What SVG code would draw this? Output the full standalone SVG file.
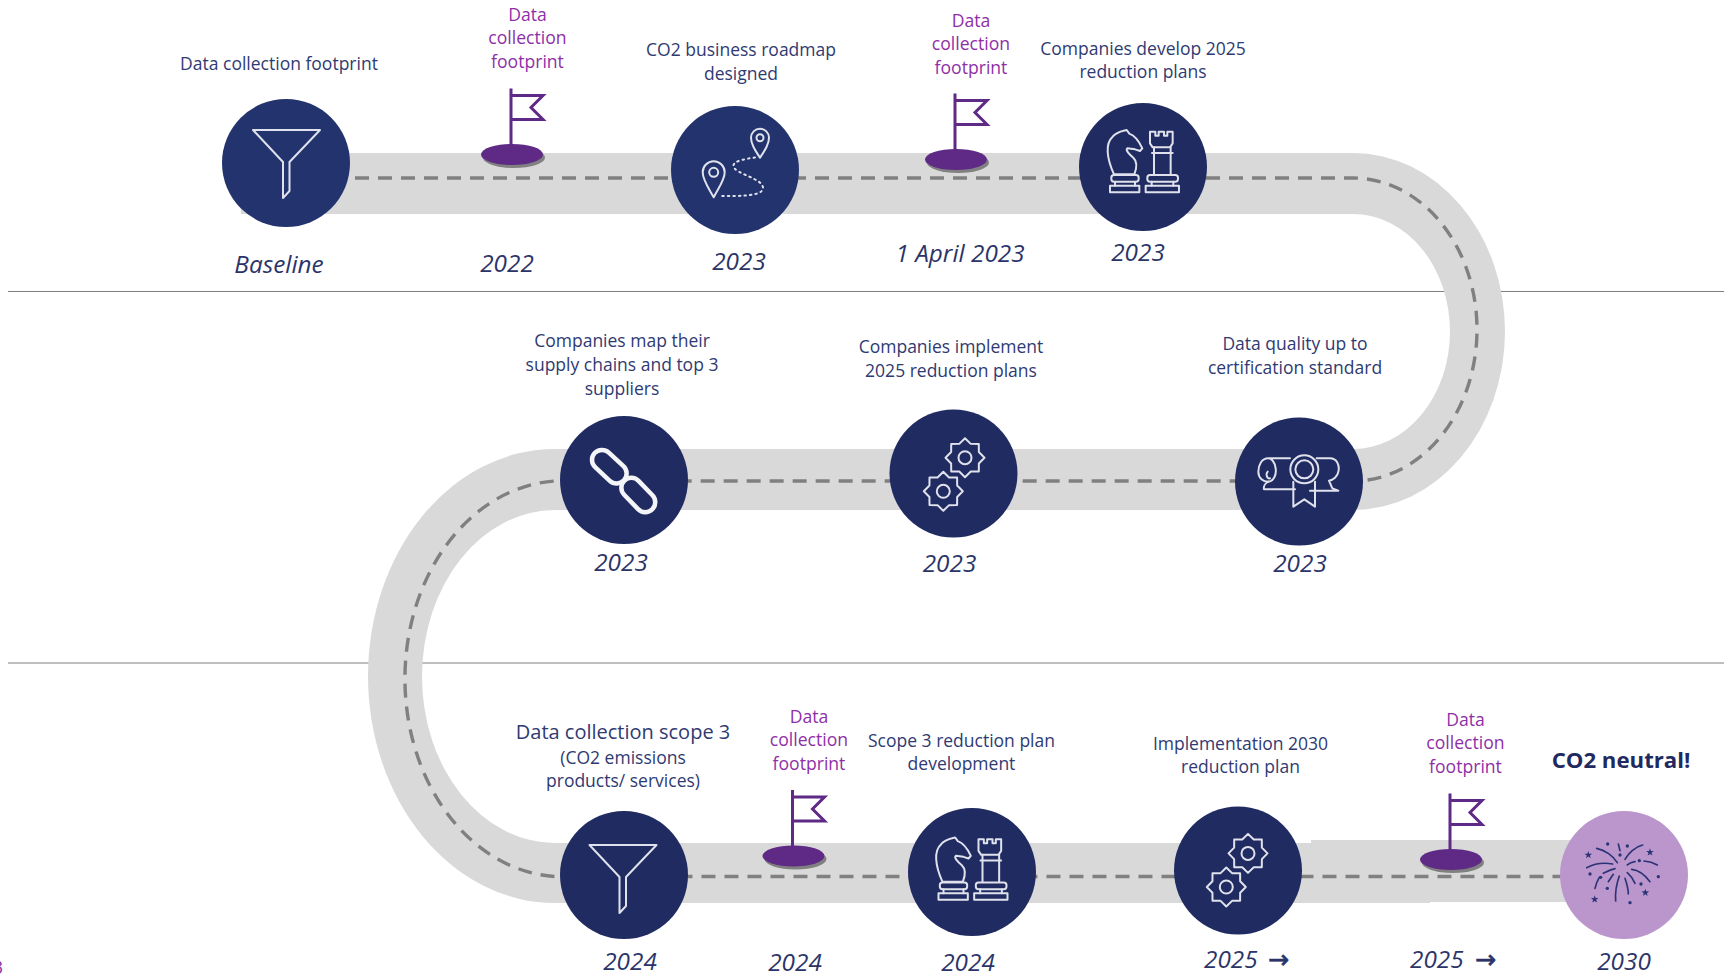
<svg xmlns="http://www.w3.org/2000/svg" xmlns:xlink="http://www.w3.org/1999/xlink" width="1724" height="975" viewBox="0 0 1724 975">
<style>
text{font-family:"Open Sans","Noto Sans","Liberation Sans",sans-serif;text-anchor:middle}
.t{font-size:17.5px;fill:#2f3a72}
.m{font-size:17.6px;fill:#8e2fa8}
.d{font-size:24.3px;font-style:italic;fill:#2b3468}
.big{font-size:20px;fill:#2f3a72}
.b{font-size:22.2px;font-weight:700;fill:#1f2a60}
.a{font-family:"DejaVu Sans",sans-serif;font-style:normal;font-size:25px;stroke:#2b3468;stroke-width:.7}
.road{fill:#d9d9d9}
.dash{fill:none;stroke:#808080;stroke-width:3.4;stroke-dasharray:14 9}
.rule{stroke:#7f7f7f;stroke-width:1.2}
.c{fill:#202b61}
.c2{fill:#23336d}
.ic{fill:none;stroke:#dfe2ec;stroke-width:2;stroke-linejoin:round;stroke-linecap:round}
.flag{fill:none;stroke:#5f2a85;stroke-width:3}
.fb{fill:#5f2a85}
.fs{fill:#808080}
.fw{fill:none;stroke:#2b3477;stroke-width:5;stroke-linecap:round}
.fd{fill:#2b3477}
</style>
<defs>
<g id="funnel"><path class="ic" d="M253,130H320L289.5,162V191L283,198V162Z"/></g>
<g id="pennant">
<ellipse class="fs" cx="2" cy="3" rx="31" ry="10.5"/>
<ellipse class="fb" cx="0" cy="0" rx="31" ry="10.5"/>
<path class="flag" d="M-1,-66V-8M-1,-59H31L19,-47L31,-35H-1"/>
</g>
<g id="chess" transform="scale(.3333)">
<g class="ic" style="stroke-width:6">
<path d="M72,178C50,130 45,85 68,65C80,50 100,48 110,45L118,56C135,62 150,85 157,100L150,108L135,103L112,100C105,105 118,118 130,128C145,142 138,165 133,178Z"/>
<rect x="64" y="180" width="82" height="20" rx="8"/><path d="M75,200V212M135,200V212"/><rect x="60" y="212" width="88" height="20"/>
<path d="M180,50h16v12h10v-12h16v12h10v-12h16v35l-8,12H188l-8,-12Z"/>
<path d="M192,97V178M242,97V178M186,114H248"/>
<rect x="172" y="180" width="92" height="20" rx="8"/><path d="M185,200V212M250,200V212"/><rect x="167" y="212" width="100" height="20"/>
</g></g>
<g id="gear">
<path class="ic" d="M0,-19.5L5.74,-13.86L13.8,-13.8L13.86,-5.74L19.5,0L13.86,5.74L13.8,13.8L5.74,13.86L0,19.5L-5.74,13.86L-13.8,13.8L-13.86,5.74L-19.5,0L-13.86,-5.74L-13.8,-13.8L-5.74,-13.86Z"/>
<circle class="ic" r="6.5"/>
</g>
<g id="gears"><use xlink:href="#gear" href="#gear" x="965" y="457.7"/><use xlink:href="#gear" href="#gear" x="943.3" y="491.3"/></g>
<polygon id="star" class="fd" points="0,-12 2.8,-3.9 11.4,-3.7 4.6,1.5 7.1,9.7 0,4.8 -7.1,9.7 -4.6,1.5 -11.4,-3.7 -2.8,-3.9"/>
</defs>

<g id="rules">
<line class="rule" x1="8" y1="291.5" x2="1724" y2="291.5"/>
<line class="rule" x1="8" y1="663" x2="1724" y2="663"/>
</g>

<g id="connectors">
<path class="road" d="M241,153H1353A152,178.5 0 0 1 1353,510H555A133,166.5 0 0 0 555,843H1430V903H555A187,227 0 0 1 555,449H1353A97,117.5 0 0 0 1353,214H241Z"/>
<rect class="road" x="1311" y="840" width="260" height="62"/>
<path class="dash" d="M286,178H1353A124,151.5 0 0 1 1353,481H555A158,198 0 0 0 555,876.5H1624"/>
</g>

<g id="flag-1"><use xlink:href="#pennant" href="#pennant" x="512" y="154.5"/>
<text class="m" x="527.5" y="21">Data</text><text class="m" x="527.5" y="44">collection</text><text class="m" x="527.5" y="68">footprint</text></g>
<g id="flag-2"><use xlink:href="#pennant" href="#pennant" x="956" y="159.5"/>
<text class="m" x="971" y="27">Data</text><text class="m" x="971" y="50">collection</text><text class="m" x="971" y="74">footprint</text></g>
<g id="flag-3"><use xlink:href="#pennant" href="#pennant" x="793.5" y="856"/>
<text class="m" x="809" y="722.5">Data</text><text class="m" x="809" y="745.5">collection</text><text class="m" x="809" y="769.5">footprint</text></g>
<g id="flag-4"><use xlink:href="#pennant" href="#pennant" x="1451" y="859.5"/>
<text class="m" x="1465.5" y="725.5">Data</text><text class="m" x="1465.5" y="748.5">collection</text><text class="m" x="1465.5" y="772.5">footprint</text></g>

<g id="node-baseline">
<circle class="c2" cx="286" cy="163" r="64"/>
<use xlink:href="#funnel" href="#funnel"/>
<text class="t" x="279" y="70">Data collection footprint</text>
<text class="d" x="279" y="273">Baseline</text>
</g>
<g id="node-2022"><text class="d" x="507" y="271.5">2022</text></g>
<g id="node-roadmap">
<circle class="c2" cx="735" cy="170" r="64"/>
<g class="ic">
<path d="M760,157.7C755,150 751,144 751,137.7A9,9 0 0 1 769,137.7C769,144 765,150 760,157.7Z"/><circle cx="760" cy="137.7" r="3.5"/>
<path d="M713.7,197.3C708,187 702.7,180 702.7,172.3A11,11 0 0 1 724.7,172.3C724.7,180 719,187 713.7,197.3Z"/><circle cx="713.7" cy="172.3" r="4.5"/>
<path stroke-dasharray="1.5 4" d="M755,157.5C745,159 733,161 733.5,166C734,174 763,178 763,188C763,197 735,196 720,196"/>
</g>
<text class="t" x="741" y="56">CO2 business roadmap</text><text class="t" x="741" y="79.5">designed</text>
<text class="d" x="739" y="270">2023</text>
</g>
<g id="node-april"><text class="d" x="960" y="262">1 April 2023</text></g>
<g id="node-develop">
<circle class="c" cx="1143" cy="167" r="64"/>
<use xlink:href="#chess" href="#chess" transform="translate(1090,115)"/>
<text class="t" x="1143" y="55">Companies develop 2025</text><text class="t" x="1143" y="78">reduction plans</text>
<text class="d" x="1138" y="260.5">2023</text>
</g>
<g id="node-map">
<circle class="c" cx="624" cy="480" r="64"/>
<g fill="none" stroke="#f4f5f8" stroke-width="4.5">
<rect x="589.3" y="456.7" width="40" height="20" rx="10" transform="rotate(43 609.3 466.7)"/>
<rect x="618.3" y="485" width="40" height="20" rx="10" transform="rotate(46 638.3 495)"/>
</g>
<text class="t" x="622" y="347">Companies map their</text><text class="t" x="622" y="370.5">supply chains and top 3</text><text class="t" x="622" y="394.5">suppliers</text>
<text class="d" x="621" y="570.5">2023</text>
</g>
<g id="node-implement">
<circle class="c" cx="953.5" cy="473.5" r="64"/>
<use xlink:href="#gears" href="#gears"/>
<text class="t" x="951" y="353">Companies implement</text><text class="t" x="951" y="376.5">2025 reduction plans</text>
<text class="d" x="949.5" y="572">2023</text>
</g>
<g id="node-certify">
<circle class="c" cx="1299" cy="481.5" r="64"/>
<g class="ic" transform="translate(1245,430) scale(.3333)" style="stroke-width:6">
<path d="M70,85C50,85 40,105 40,125C40,145 55,155 70,155C85,155 95,135 92,115C90,98 80,85 70,85ZM70,85H135M68,125C62,130 65,148 75,145"/>
<path d="M70,155C60,160 55,170 57,178H150M215,85H255C275,85 285,105 280,125C278,140 265,150 252,152L262,175L280,182H195"/>
<circle cx="178" cy="118" r="42"/><circle cx="178" cy="118" r="27"/>
<path d="M145,155V230L178,208L210,230V155"/>
</g>
<text class="t" x="1295" y="350">Data quality up to</text><text class="t" x="1295" y="373.5">certification standard</text>
<text class="d" x="1300" y="572">2023</text>
</g>
<g id="node-scope3">
<circle class="c" cx="624" cy="875" r="64"/>
<use xlink:href="#funnel" href="#funnel" transform="translate(336.5,715)"/>
<text class="big" x="623" y="739">Data collection scope 3</text>
<text class="t" x="623" y="764">(CO2 emissions</text><text class="t" x="623" y="787">products/ services)</text>
<text class="d" x="630" y="970">2024</text>
</g>
<g id="node-2024"><text class="d" x="795" y="971">2024</text></g>
<g id="node-scope3plan">
<circle class="c" cx="972" cy="872" r="64"/>
<use xlink:href="#chess" href="#chess" transform="translate(918.5,822.5)"/>
<text class="t" x="961.5" y="747">Scope 3 reduction plan</text><text class="t" x="961.5" y="770">development</text>
<text class="d" x="968" y="971">2024</text>
</g>
<g id="node-implementation">
<circle class="c" cx="1238" cy="870.5" r="64"/>
<use xlink:href="#gears" href="#gears" transform="translate(283,395.7)"/>
<text class="t" x="1240.5" y="749.5">Implementation 2030</text><text class="t" x="1240.5" y="773">reduction plan</text>
<text class="d" x="1204" y="968" style="text-anchor:start">2025 <tspan class="a" x="1268">→</tspan></text>
</g>
<g id="node-2025"><text class="d" x="1410" y="968" style="text-anchor:start">2025 <tspan class="a" x="1475">→</tspan></text></g>
<g id="node-neutral">
<circle cx="1624" cy="875" r="64" fill="#bb96cc"/>
<g transform="translate(1570,820) scale(.3333)">
<path class="fw" d="M80,85C105,90 130,108 142,128M145,72L150,92M165,118C175,100 195,80 218,75M50,143C75,130 105,128 128,132M172,135C180,128 188,126 195,125M222,123C235,124 250,128 262,135M100,160C110,155 120,150 135,146M185,148C205,150 225,165 240,185M75,205C78,192 82,182 88,172M115,185C120,178 125,170 130,163M137,243C135,215 140,190 148,168M175,222C175,205 170,190 165,175M172,158C180,165 188,175 195,190"/>
<g class="fd"><circle cx="113" cy="72" r="5"/><circle cx="172" cy="78" r="5"/><circle cx="150" cy="105" r="5"/><circle cx="208" cy="122" r="5"/><circle cx="60" cy="162" r="5"/><circle cx="92" cy="172" r="5"/><circle cx="265" cy="170" r="5"/><circle cx="112" cy="205" r="5"/><circle cx="213" cy="192" r="5"/><circle cx="180" cy="248" r="5"/></g>
<use xlink:href="#star" href="#star" x="55" y="105"/><use xlink:href="#star" href="#star" x="240" y="97"/><use xlink:href="#star" href="#star" x="226" y="218"/><use xlink:href="#star" href="#star" x="74" y="238"/>
</g>
<text class="b" x="1621" y="768">CO2 neutral!</text>
<text class="d" x="1624" y="970">2030</text>
</g>
<text x="-2" y="974" style="font-size:17.5px;fill:#8e2fa8">3</text>
</svg>
